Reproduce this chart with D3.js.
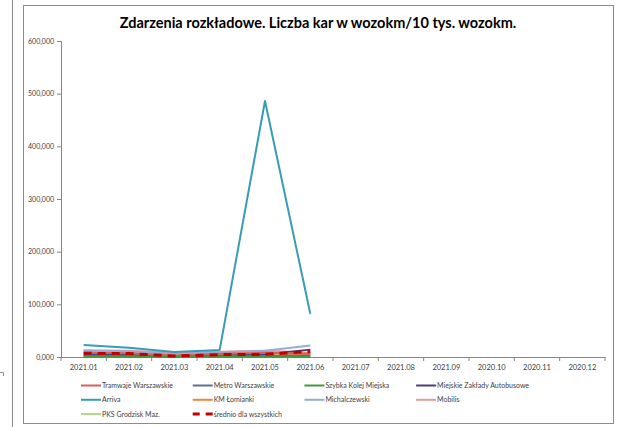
<!DOCTYPE html>
<html>
<head>
<meta charset="utf-8">
<script src="https://cdn.jsdelivr.net/npm/d3@7"></script>
<style>
  body { margin: 0; background: #fff; }
  svg text { font-family: Lato, "Open Sans", sans-serif; fill: #404040; }
</style>
</head>
<body>
<div id="chart"></div>
<script>
// months on the x axis (only the first six have data)
var months = ["2021.01", "2021.02", "2021.03", "2021.04", "2021.05", "2021.06",
              "2021.07", "2021.08", "2021.09", "2020.10", "2020.11", "2020.12"];

var yTicks = [0, 100000, 200000, 300000, 400000, 500000, 600000];

var seriesNames = ["Tramwaje Warszawskie", "Metro Warszawskie", "Szybka Kolej Miejska",
  "Miejskie Zakłady Autobusowe", "Arriva", "KM Łomianki", "Michalczewski", "Mobilis",
  "PKS Grodzisk Maz.", "średnio dla wszystkich"];

var tramwaje    = [8000, 7000, 3000, 6000, 8000, 6000];
var metro       = [2000, 1500, 800, 1500, 2000, 2500];
var skm         = [500, 500, 300, 500, 500, 500];
var mza         = [5000, 4000, 2000, 3000, 5000, 14000];
var arriva      = [23000, 17500, 9500, 13500, 486000, 82000];
var lomianki    = [3000, 2000, 1000, 2000, 3000, 4000];
var michalczew  = [12000, 11000, 6000, 9000, 12000, 22000];
var mobilis     = [13000, 12000, 8000, 10000, 12000, 8000];
var pks         = [9000, 8000, 5000, 6000, 7000, 5000];
var srednio     = [7000, 6500, 1800, 4500, 5000, 10500];

var seriesValues = [tramwaje, metro, skm, mza, arriva, lomianki, michalczew, mobilis, pks, srednio];
var seriesColors = ["#e05a5a", "#5b7391", "#3c9a3c", "#4e3d7e", "#3a9bb5",
                    "#eb873c", "#95add6", "#e39c9c", "#b5d38e", "#c00000"];

var w = 627, h = 427;

var svg = d3.select("#chart").append("svg")
  .attr("width", w)
  .attr("height", h);

// edge of a neighbouring chart on the left
svg.append("line").attr("x1", 12.5).attr("x2", 12.5).attr("y1", 0).attr("y2", h)
  .style("stroke", "#8c8c8c");
svg.append("path").attr("d", "M0,372.5 H3.5 V376").style("fill", "none").style("stroke", "#8c8c8c");

// chart frame
svg.append("rect")
  .attr("x", 23.5).attr("y", 5.5)
  .attr("width", 590).attr("height", 418)
  .style("fill", "#fff").style("stroke", "#8c8c8c");

svg.append("text")
  .attr("x", 318).attr("y", 28)
  .attr("text-anchor", "middle")
  .attr("font-size", "14.5px")
  .attr("font-weight", "bold")
  .style("fill", "#000")
  .text("Zdarzenia rozkładowe. Liczba kar w wozokm/10 tys. wozokm.");

var x = d3.scaleBand().domain(months).range([61, 605]);
var y = d3.scaleLinear().domain([0, 600000]).range([357, 41]);

var fmt = function(d) { return d3.format(",.3f")(d / 1000).replace(".", ",").replace(/,(\d{3})$/, ",$1"); };
var yfmt = function(d) { return d === 0 ? "0,000" : d3.format(",")(d) ; };

var yAxis = d3.axisLeft(y).tickValues(yTicks).tickSize(4).tickPadding(3).tickFormat(yfmt);
var gy = svg.append("g").attr("transform", "translate(61,0)").call(yAxis);
gy.select(".domain").style("stroke", "#868686");
gy.selectAll(".tick line").style("stroke", "#868686");
gy.selectAll("text").attr("font-size", "7px").style("fill", "#404040");

var xAxis = d3.axisBottom(x).tickSize(0).tickPadding(8);
var gx = svg.append("g").attr("transform", "translate(0,357)").call(xAxis);
gx.select(".domain").style("stroke", "#868686");
gx.selectAll("text").attr("font-size", "7.5px").style("fill", "#404040");
// ticks at category boundaries
gx.selectAll(".bnd").data(months.concat(["end"])).enter().append("line")
  .attr("x1", function(d, i) { return i < months.length ? x(d) : x.range()[1]; })
  .attr("x2", function(d, i) { return i < months.length ? x(d) : x.range()[1]; })
  .attr("y1", 0).attr("y2", 4)
  .style("stroke", "#868686");

var line = d3.line()
  .x(function(d, i) { return x(months[i]) + x.bandwidth() / 2; })
  .y(function(d) { return y(d); });

var drawOrder = [8, 7, 6, 5, 3, 1, 0, 2, 4, 9];
drawOrder.forEach(function(k) {
  svg.append("path")
    .datum(seriesValues[k])
    .attr("d", line)
    .style("fill", "none")
    .style("stroke", seriesColors[k])
    .style("stroke-width", k === 9 ? 3 : 2)
    .style("stroke-dasharray", k === 9 ? "8,6" : null)
    .style("stroke-linejoin", "round");
});

// legend
var legend = svg.append("g");
seriesNames.forEach(function(name, i) {
  var col = i % 4, row = Math.floor(i / 4);
  var lx = 81 + col * 111.7, ly = 385.5 + row * 14.3;
  legend.append("line")
    .attr("x1", lx).attr("x2", lx + 20)
    .attr("y1", ly).attr("y2", ly)
    .style("stroke", seriesColors[i])
    .style("stroke-width", i === 9 ? 3 : 2)
    .style("stroke-dasharray", i === 9 ? "7,6" : null);
  legend.append("text")
    .attr("x", lx + 21).attr("y", ly + 2.5)
    .attr("font-size", "7px")
    .style("fill", "#404040")
    .text(name);
});
</script>
</body>
</html>
